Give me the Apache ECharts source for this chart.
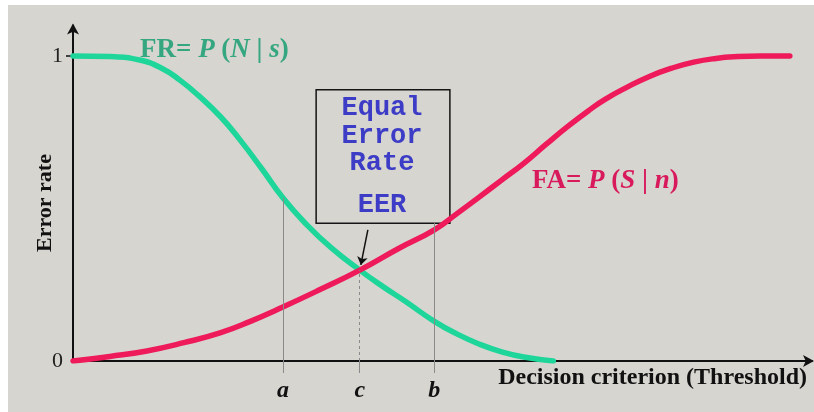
<!DOCTYPE html>
<html>
<head>
<meta charset="utf-8">
<script src="https://cdn.jsdelivr.net/npm/echarts@6/dist/echarts.min.js"></script>
<style>
  html, body { margin: 0; padding: 0; background: #fff; }
  #chart { width: 814px; height: 412px; }
</style>
</head>
<body>
<div id="chart"></div>
<script>
// threshold axis runs 0..100, error rate 0..1
var frX = [0, 5, 9, 12, 14.5, 17, 20, 22.6, 25.5, 28.4, 31.5, 35, 38.8, 42, 45, 48.9, 52, 55, 58, 61, 65];
var frY = [1.0, 0.998, 0.987, 0.96, 0.92, 0.87, 0.80, 0.725, 0.632, 0.535, 0.45, 0.37, 0.298, 0.243, 0.195, 0.13, 0.088, 0.055, 0.03, 0.013, 0.0];

var faX = [0, 5, 10, 15, 20, 24, 28.4, 33.5, 38.8, 44, 48.9, 52, 55, 58, 61, 64, 67, 70, 72, 75, 78, 81, 84, 87, 90, 93, 97];
var faY = [0, 0.015, 0.033, 0.06, 0.093, 0.13, 0.177, 0.235, 0.298, 0.368, 0.43, 0.484, 0.538, 0.593, 0.648, 0.71, 0.77, 0.825, 0.858, 0.898, 0.933, 0.96, 0.98, 0.992, 0.998, 1.0, 1.0];

// marked thresholds a, c, b and how high their guide lines go
var markNames = ["a", "c", "b"];
var markPos = [28.4, 38.8, 48.9];
var markTop = [0.535, 0.298, 0.452];

var yTicks = [0, 1];

function pairs(xs, ys) {
  return xs.map(function (x, i) { return [x, ys[i]]; });
}

var guideLines = markPos.map(function (x, i) {
  return [
    { coord: [x, 0], lineStyle: { type: markNames[i] === "c" ? [3, 3] : "solid" } },
    { coord: [x, markTop[i]] }
  ];
});

var myChart = echarts.init(document.getElementById("chart"));
var serif = "'Liberation Serif', 'DejaVu Serif', serif";
var mono = "'Liberation Mono', 'DejaVu Sans Mono', monospace";

function boxText(txt, y) {
  return {
    type: "text",
    x: 382,
    y: y,
    style: {
      text: txt,
      fontFamily: mono,
      fontSize: 27,
      fontWeight: "bold",
      fill: "#3c3cc6",
      align: "center",
      verticalAlign: "middle"
    }
  };
}

var option = {
  backgroundColor: "#ffffff",
  animation: false,
  grid: { left: 73, right: 2, top: 25.5, bottom: 51, containLabel: false },
  xAxis: {
    type: "value",
    min: 0,
    max: 100,
    axisLine: {
      show: true,
      symbol: ["none", "arrow"],
      symbolSize: [9, 11],
      symbolOffset: [0, 2],
      lineStyle: { color: "#111", width: 2 }
    },
    axisTick: {
      show: true,
      customValues: markPos,
      length: 12,
      lineStyle: { color: "#8a8a8a", width: 1 }
    },
    axisLabel: {
      show: true,
      customValues: markPos,
      margin: 18,
      formatter: function (v) {
        var i = markPos.indexOf(v);
        return i >= 0 ? markNames[i] : "";
      },
      fontFamily: serif,
      fontSize: 24,
      fontWeight: "bold",
      fontStyle: "italic",
      color: "#111"
    },
    splitLine: { show: false }
  },
  yAxis: {
    type: "value",
    min: 0,
    max: 1.1,
    axisLine: {
      show: true,
      symbol: ["none", "arrow"],
      symbolSize: [9, 11],
      symbolOffset: [0, 2],
      lineStyle: { color: "#111", width: 2 }
    },
    axisTick: {
      show: true,
      customValues: [1],
      length: 7,
      lineStyle: { color: "#111", width: 1.5 }
    },
    axisLabel: {
      show: true,
      customValues: yTicks,
      margin: 10,
      fontFamily: serif,
      fontSize: 22,
      color: "#222"
    },
    splitLine: { show: false }
  },
  series: [
    {
      // guide lines and EER box
      type: "line",
      data: [],
      silent: true,
      z: 1,
      markLine: {
        silent: true,
        symbol: ["none", "none"],
        label: { show: false },
        lineStyle: { color: "#8a8a8a", width: 1 },
        data: guideLines
      },
      markArea: {
        silent: true,
        itemStyle: { color: "rgba(0,0,0,0)", borderColor: "#151515", borderWidth: 1.5 },
        data: [[{ coord: [32.9, 0.889] }, { coord: [51.0, 0.452] }]]
      }
    },
    {
      type: "line",
      name: "FR",
      data: pairs(frX, frY),
      smooth: 0.5,
      showSymbol: false,
      z: 3,
      lineStyle: { color: "#1fd69a", width: 5.5, cap: "round" }
    },
    {
      type: "line",
      name: "FA",
      data: pairs(faX, faY),
      smooth: 0.5,
      showSymbol: false,
      z: 4,
      lineStyle: { color: "#ee1a5a", width: 5.5, cap: "round" },
      markLine: {
        silent: true,
        symbol: ["none", "arrow"],
        symbolSize: 8,
        label: { show: false },
        lineStyle: { color: "#111", width: 1.5, type: "solid" },
        data: [[{ coord: [39.9, 0.43] }, { coord: [38.95, 0.315] }]]
      }
    }
  ],
  graphic: [
    {
      type: "rect",
      z: -10,
      silent: true,
      shape: { x: 8, y: 5, width: 806, height: 407 },
      style: { fill: "#d7d5d0" }
    },
    {
      type: "text",
      x: 140,
      y: 50,
      style: {
        text: "{b|FR= }{i|P}{b| (}{i|N}{b| | }{i|s}{b|)}",
        verticalAlign: "middle",
        rich: {
          b: { fontFamily: serif, fontSize: 27, fontWeight: "bold", fill: "#34a680" },
          i: { fontFamily: serif, fontSize: 27, fontWeight: "bold", fontStyle: "italic", fill: "#34a680" }
        }
      }
    },
    {
      type: "text",
      x: 532,
      y: 181,
      style: {
        text: "{b|FA= }{i|P}{b| (}{i|S}{b| | }{i|n}{b|)}",
        verticalAlign: "middle",
        rich: {
          b: { fontFamily: serif, fontSize: 27, fontWeight: "bold", fill: "#d81a5c" },
          i: { fontFamily: serif, fontSize: 27, fontWeight: "bold", fontStyle: "italic", fill: "#d81a5c" }
        }
      }
    },
    {
      type: "text",
      x: 45,
      y: 203,
      rotation: Math.PI / 2,
      style: {
        text: "Error rate",
        fontFamily: serif,
        fontSize: 22,
        fontWeight: "bold",
        fill: "#111",
        align: "center",
        verticalAlign: "middle"
      }
    },
    {
      type: "text",
      x: 807,
      y: 378,
      style: {
        text: "Decision criterion (Threshold)",
        fontFamily: serif,
        fontSize: 24,
        fontWeight: "bold",
        fill: "#111",
        align: "right",
        verticalAlign: "middle"
      }
    },
    boxText("Equal", 108),
    boxText("Error", 136),
    boxText("Rate", 163),
    boxText("EER", 205)
  ]
};

myChart.setOption(option);
</script>
</body>
</html>
